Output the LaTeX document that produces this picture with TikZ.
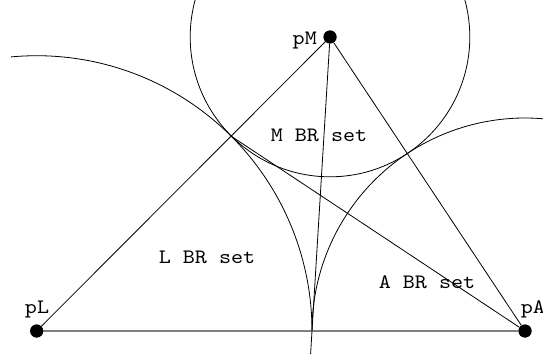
\documentclass[tikz,border=0pt]{standalone}
\usepackage{fontspec}
\newfontfamily\courfont{lmmono10-regular.otf}[FakeStretch=1.12]
\usetikzlibrary{calc}
\begin{document}
\begin{tikzpicture}[x=1pt,y=1pt,
  dot/.style={circle,fill=black,inner sep=0pt,minimum size=13pt},
  lbl/.style={font=\courfont\fontsize{20.5}{24}\selectfont,inner sep=0pt},
  edge line/.style={line width=0.8pt,draw=black},
  curve/.style={line width=0.8pt,draw=black},
  base line/.style={line width=2pt,draw=black!50}]
\useasboundingbox (0,0) rectangle (543,362);
\clip (0,0) rectangle (543,362);
% points
\node[dot] (pL) at (36.7,31) {};
\node[dot] (pM) at (330,325) {};
\node[dot] (pA) at (525,31) {};
% tangency points of the three circles
\coordinate (TLM) at ($(pL.center)!275.3pt!(pM.center)$);
\coordinate (TMA) at ($(pM.center)!139.8pt!(pA.center)$);
\coordinate (TLA) at ($(pL.center)!275.3pt!(pA.center)$);
\coordinate (Bot) at ($(pM.center)!1.078!(TLA)$);
% circles
\draw[curve] (pM.center) circle[radius=139.8pt];
\draw[curve] ([shift={(95.4:275.3pt)}]pL.center) arc[start angle=95.4,end angle=0,radius=275.3pt];
\draw[curve] ([shift={(180:213pt)}]pA.center) arc[start angle=180,end angle=70,radius=213pt];
% lines
\draw[base line] (pL) -- (pA);
\draw[edge line] (pL) -- (pM);
\draw[edge line] (pM) -- (pA);
\draw[edge line] (TLM) -- (pA);
\draw[edge line] (pM) -- (Bot);
% redraw points on top
\node[dot] at (pL.center) {};
\node[dot] at (pM.center) {};
\node[dot] at (pA.center) {};
% labels
\node[lbl,anchor=base east] (tM) at (317,317) {pM};
\node[lbl,anchor=base] (tL) at (37,49) {pL};
\node[lbl,anchor=base west] (tA) at (520.7,49) {pA};
\node[lbl,anchor=base] (sM) at (319,221) {M BR set};
\node[lbl,anchor=base] (sL) at (207,99) {L BR set};
\node[lbl,anchor=base] (sA) at (427,74) {A BR set};
\end{tikzpicture}
\end{document}
